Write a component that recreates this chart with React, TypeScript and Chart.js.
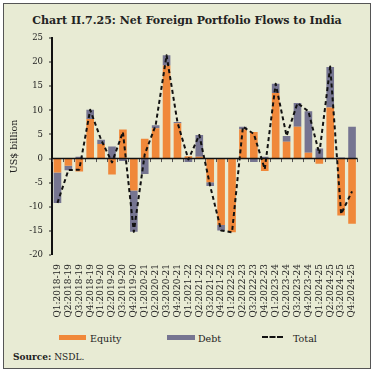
import React, { useEffect, useRef } from "react";
import { Chart, registerables } from "chart.js";

Chart.register(...registerables);

const categories = [
  "Q1:2018-19", "Q2:2018-19", "Q3:2018-19", "Q4:2018-19",
  "Q1:2019-20", "Q2:2019-20", "Q3:2019-20", "Q4:2019-20",
  "Q1:2020-21", "Q2:2020-21", "Q3:2020-21", "Q4:2020-21",
  "Q1:2021-22", "Q2:2021-22", "Q3:2021-22", "Q4:2021-22",
  "Q1:2022-23", "Q2:2022-23", "Q3:2022-23", "Q4:2022-23",
  "Q1:2023-24", "Q2:2023-24", "Q3:2023-24", "Q4:2023-24",
  "Q1:2024-25", "Q2:2024-25", "Q3:2024-25", "Q4:2024-25",
];

const equity = [
  -2.9, -1.5, -2.7, 8.2, 3.0, -3.3, 6.0, -6.6,
  4.1, 6.3, 19.3, 7.3, 0.5, 0.4, -4.9, -13.8,
  -15.3, 6.0, 5.5, -2.6, 13.6, 3.5, 6.6, 1.2,
  -1.1, 10.6, -11.8, -13.5,
];

const debt = [
  -6.3, -0.9, 0.4, 1.9, 0.9, 2.5, -0.5, -8.6,
  -3.2, 0.6, 2.1, 0.3, -0.7, 4.5, -0.8, -1.1,
  0.0, 0.6, -0.7, 0.4, 1.9, 1.2, 4.9, 8.6,
  2.1, 8.4, 0.2, 6.6,
];

const total = [
  -9.2, -2.4, -2.3, 10.1, 3.9, -0.8, 5.5, -15.2,
  0.9, 6.9, 21.4, 7.5, -0.2, 4.9, -5.7, -14.9,
  -15.3, 6.6, 5.1, -2.2, 15.5, 4.7, 11.5, 9.8,
  1.0, 19.1, -11.5, -6.8,
];

const yTicks = { min: -20, max: 25, step: 5 };

const ORANGE = "#f0883a";
const GREY = "#767591";
const BG = "#e8ebd4";
const FONT = "'DejaVu Serif', serif";

const zeroLine = {
  id: "zeroLine",
  afterDatasetsDraw(chart: any) {
    const { ctx, scales, chartArea } = chart;
    const x = scales.x;
    const y = scales.y;
    const y0 = y.getPixelForValue(0);
    ctx.save();
    ctx.strokeStyle = "#555";
    ctx.lineWidth = 1;
    for (let i = 0; i <= categories.length; i++) {
      const px = Math.round(x.getPixelForValue(i - 0.5)) + 0.5;
      ctx.beginPath();
      ctx.moveTo(px, y0);
      ctx.lineTo(px, y0 + 3.5);
      ctx.stroke();
    }
    ctx.strokeStyle = "#111";
    ctx.lineWidth = 1.5;
    ctx.beginPath();
    ctx.moveTo(chartArea.left, y0);
    ctx.lineTo(chartArea.right, y0);
    ctx.stroke();
    ctx.restore();
  },
};

function ChartCanvas() {
  const ref = useRef<HTMLCanvasElement | null>(null);
  useEffect(() => {
    if (!ref.current) return;
    const tickFont = { family: FONT, size: 8.5 };
    const chart = new Chart(ref.current, {
      type: "bar",
      data: {
        labels: categories,
        datasets: [
          {
            type: "line",
            label: "Total",
            data: total,
            borderColor: "#111",
            borderWidth: 2,
            borderDash: [4, 3],
            borderJoinStyle: "round",
            pointRadius: 0,
            fill: false,
            tension: 0,
            stack: "total",
            order: 0,
          } as any,
          {
            label: "Equity",
            data: equity,
            backgroundColor: ORANGE,
            stack: "flows",
            order: 1,
            categoryPercentage: 1,
            barPercentage: 0.7,
          },
          {
            label: "Debt",
            data: debt,
            backgroundColor: GREY,
            stack: "flows",
            order: 1,
            categoryPercentage: 1,
            barPercentage: 0.7,
          },
        ],
      },
      options: {
        animation: false,
        responsive: false,
        maintainAspectRatio: false,
        layout: { padding: { left: 5, right: 9, top: 12, bottom: 0 } },
        plugins: {
          legend: { display: false },
          tooltip: { enabled: false },
        },
        scales: {
          x: {
            stacked: true,
            grid: { display: false, drawTicks: false },
            border: { display: false },
            ticks: {
              autoSkip: false,
              maxRotation: 90,
              minRotation: 90,
              padding: 9,
              font: { family: FONT, size: 9 },
              color: "#222",
            },
            afterFit: (s: any) => {
              s.height = 76;
            },
          },
          y: {
            stacked: true,
            min: yTicks.min,
            max: yTicks.max,
            ticks: {
              stepSize: yTicks.step,
              padding: 6,
              font: tickFont,
              color: "#222",
            },
            grid: {
              color: "rgba(0,0,0,0)",
              lineWidth: 0,
              drawTicks: true,
              tickLength: 3,
              tickColor: "#222",
              tickWidth: 1,
            },
            border: { display: true, color: "#111", width: 2 },
            title: {
              display: true,
              text: "US$ billion",
              font: { family: FONT, size: 9.5 },
              color: "#222",
              padding: 0,
            },
            afterFit: (s: any) => {
              s.width = 43;
            },
          },
        },
      },
      plugins: [zeroLine],
    });
    return () => chart.destroy();
  }, []);
  return (
    <canvas
      ref={ref}
      width={368}
      height={305}
      style={{ position: "absolute", left: 0, top: 22, width: 368, height: 305 }}
    />
  );
}

export default function App() {
  const legendText: React.CSSProperties = {
    position: "absolute",
    top: 329,
    fontFamily: FONT,
    fontSize: 9.5,
    color: "#222",
    lineHeight: "12px",
  };
  return (
    <div
      style={{
        position: "fixed",
        left: 0,
        top: 0,
        width: 375,
        height: 374,
        background: "#fff",
      }}
    >
      <div
        style={{
          position: "absolute",
          left: 3,
          top: 3,
          width: 368,
          height: 366,
          background: BG,
          border: "1px solid #555",
          boxSizing: "border-box",
        }}
      >
        <div
          style={{
            position: "absolute",
            left: 0,
            top: 10,
            width: "100%",
            textAlign: "center",
            fontFamily: FONT,
            fontWeight: "bold",
            fontSize: 11,
            color: "#222",
          }}
        >
          Chart II.7.25: Net Foreign Portfolio Flows to India
        </div>
        <ChartCanvas />
        <div style={{ position: "absolute", left: 55, top: 331, width: 27, height: 5, background: ORANGE }} />
        <div style={{ ...legendText, left: 86 }}>Equity</div>
        <div style={{ position: "absolute", left: 163, top: 331, width: 28, height: 5, background: GREY }} />
        <div style={{ ...legendText, left: 194 }}>Debt</div>
        <div style={{ position: "absolute", left: 258, top: 332, width: 21, height: 0, borderTop: "2px dashed #111" }} />
        <div style={{ ...legendText, left: 289 }}>Total</div>
        <div
          style={{
            position: "absolute",
            left: 9,
            top: 348,
            fontFamily: FONT,
            fontSize: 9,
            color: "#222",
          }}
        >
          <b>Source:</b> NSDL.
        </div>
      </div>
    </div>
  );
}
